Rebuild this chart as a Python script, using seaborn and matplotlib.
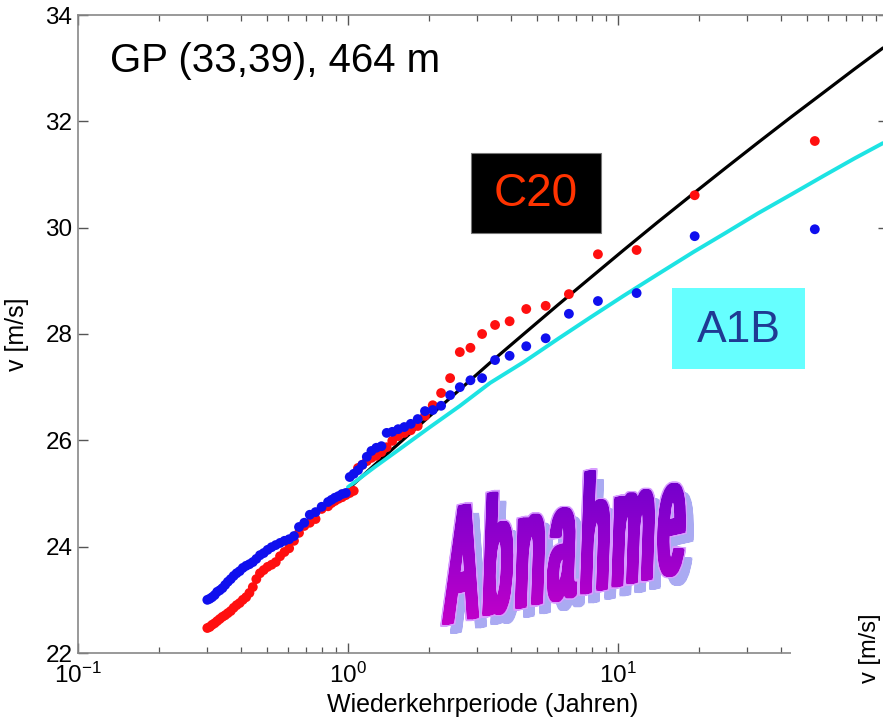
import numpy as np
import pandas as pd
import matplotlib
matplotlib.use("Agg")
import matplotlib.pyplot as plt
import seaborn as sns
from matplotlib.textpath import TextPath
from matplotlib.path import Path
from matplotlib.patches import PathPatch, Rectangle
from matplotlib.font_manager import FontProperties
from matplotlib.colors import LinearSegmentedColormap
import matplotlib.transforms as mtransforms

# ---------------- data ----------------
# return periods (years) of the ranked events
T_pos = [53.57, 19.23, 11.72, 8.427, 6.579, 5.396, 4.573, 3.968, 3.505, 3.138,
         2.841, 2.595, 2.389, 2.212, 2.060, 1.928, 1.812, 1.708, 1.616, 1.534,
         1.459, 1.391, 1.330, 1.273, 1.221, 1.174, 1.130, 1.089, 1.050, 1.015,
         0.9817, 0.9506, 0.9215, 0.8939, 0.8683,
         0.8436, 0.7987, 0.7583, 0.7219, 0.6887, 0.6585, 0.6308, 0.6053, 0.5818, 0.5601,
         0.5400, 0.5212, 0.5037, 0.4873, 0.4720, 0.4576, 0.4441, 0.4314, 0.4194, 0.4078,
         0.3970, 0.3868, 0.3771, 0.3678, 0.3590, 0.3507, 0.3427, 0.3350, 0.3277, 0.3207,
         0.3139, 0.3075, 0.3013]

v_c20 = [31.63, 30.61, 29.58, 29.50, 28.75, 28.53, 28.47, 28.24, 28.17, 28.00,
         27.74, 27.66, 27.17, 26.89, 26.66, 26.46, 26.27, 26.19, 26.14, 26.08,
         25.99, 25.87, 25.78, 25.71, 25.67, 25.61, 25.54, 25.48, 25.05, 25.01,
         24.97, 24.93, 24.90, 24.86, 24.82,
         24.76, 24.71, 24.52, 24.45, 24.39, 24.26, 24.11, 23.97, 23.90, 23.82,
         23.71, 23.66, 23.62, 23.56, 23.50, 23.39, 23.24, 23.13, 23.05, 23.00,
         22.94, 22.90, 22.85, 22.79, 22.75, 22.71, 22.68, 22.64, 22.60, 22.56,
         22.53, 22.49, 22.47]

v_a1b = [29.97, 29.84, 28.77, 28.62, 28.38, 27.92, 27.77, 27.59, 27.51, 27.17,
         27.13, 27.00, 26.85, 26.65, 26.57, 26.55, 26.40, 26.31, 26.25, 26.21,
         26.16, 26.14, 25.89, 25.86, 25.80, 25.69, 25.54, 25.44, 25.37, 25.31,
         25.01, 24.99, 24.95, 24.92, 24.88,
         24.84, 24.75, 24.65, 24.60, 24.45, 24.37, 24.20, 24.14, 24.11, 24.07,
         24.03, 23.99, 23.94, 23.88, 23.84, 23.77, 23.71, 23.67, 23.64, 23.60,
         23.54, 23.50, 23.45, 23.39, 23.34, 23.28, 23.22, 23.18, 23.15, 23.09,
         23.05, 23.02, 23.00]

# fitted curves
fit_T = [1.0, 1.25, 1.558, 2.0, 2.6, 3.36, 4.5, 6.0, 8.0, 10.5,
         14.0, 19.0, 25.0, 33.0, 44.0, 58.0, 75.0, 95.8]
fit_c20_v = [25.08, 25.53, 25.96, 26.45, 26.96, 27.46, 28.01, 28.55, 29.08, 29.58,
             30.10, 30.64, 31.12, 31.60, 32.09, 32.55, 32.98, 33.38]
fit_a1b_v = [25.12, 25.49, 25.84, 26.24, 26.65, 27.08, 27.48, 27.91, 28.33, 28.72,
             29.12, 29.54, 29.90, 30.27, 30.63, 30.98, 31.30, 31.59]

y_ticks = [22, 24, 26, 28, 30, 32, 34]
x_ticks = [0.1, 1, 10, 100]

# ---------------- figure ----------------
sns.set_theme(style="ticks")
plt.rcParams["font.family"] = ["Liberation Sans", "DejaVu Sans"]
plt.rcParams["mathtext.fontset"] = "custom"
plt.rcParams["mathtext.rm"] = "Liberation Sans"
plt.rcParams["text.color"] = "black"
plt.rcParams["axes.labelcolor"] = "black"

W, H = 883, 723
fig = plt.figure(figsize=(W / 100, H / 100), dpi=100)
fig.patch.set_facecolor("white")

ax = fig.add_axes([78 / W, (H - 653) / H, (888 - 78) / W, (653 - 15) / H])
ax.set_facecolor("white")

n = len(T_pos)
pts = pd.DataFrame({"T": T_pos + T_pos,
                    "v": v_c20 + v_a1b,
                    "run": ["C20"] * n + ["A1B"] * n})

sns.lineplot(x=fit_T, y=fit_c20_v, color="black", lw=2.3, ax=ax)
sns.lineplot(x=fit_T, y=fit_a1b_v, color="#1de3e3", lw=2.8, ax=ax)
sns.scatterplot(data=pts, x="T", y="v", hue="run",
                palette={"C20": "#ff0f0f", "A1B": "#0f0fee"},
                s=50, edgecolor="none", linewidth=0, legend=False, ax=ax, zorder=3)

ax.set_xscale("log")
ax.set_xlim(0.1, 100)
ax.set_ylim(22, 34)
ax.set_yticks(y_ticks)
ax.set_xticks(x_ticks)
ax.tick_params(which="both", direction="in", top=True, right=True,
               color="#555555", labelsize=17.5, labelcolor="black")
ax.tick_params(which="major", length=7, width=1.0)
ax.tick_params(which="minor", length=4, width=0.9)
ax.tick_params(axis="x", pad=7)
ax.tick_params(axis="y", pad=4)
for sp in ax.spines.values():
    sp.set_color("#888888")
    sp.set_linewidth(1.2)
ax.set_xlabel("Wiederkehrperiode (Jahren)", fontsize=18, labelpad=4, color="black")
ax.set_ylabel("v [m/s]", fontsize=18, labelpad=12, color="black")

# ---------------- overlay annotations (pixel coordinates) ----------------
ov = fig.add_axes([0, 0, 1, 1], zorder=5)
ov.set_xlim(0, W)
ov.set_ylim(0, H)
ov.axis("off")
ov.patch.set_alpha(0)

def Y(y):
    return H - y

# part of the neighbouring slide figure covering the lower right
ov.add_patch(Rectangle((791, 0), W - 791, Y(270), facecolor="white", edgecolor="none", zorder=1))
ov.text(870, Y(648), "v [m/s]", rotation=90, fontsize=17, ha="center", va="center",
        color="black", zorder=2)

ov.text(110, Y(61), "GP (33,39), 464 m", fontsize=29, ha="left", va="center",
        color="black", zorder=3)

ov.add_patch(Rectangle((471, Y(233)), 130, 80, facecolor="black", edgecolor="#777777", lw=0.8, zorder=3))
ov.text(536, Y(194), "C20", fontsize=33, color="#ff3300", ha="center", va="center", zorder=4)

ov.add_patch(Rectangle((672, Y(369)), 133, 81, facecolor="#66ffff", edgecolor="none", zorder=3))
ov.text(738.5, Y(330), "A1B", fontsize=32, color="#1f3a93", ha="center", va="center", zorder=4)

# WordArt "Abnahme" (tall, heavy, sheared, gradient fill with dotted shadow)
prop = FontProperties(family="Liberation Sans", weight="bold")
word = "Abnahme"
glyphs = [TextPath((0, 0), ch, size=1, prop=prop) for ch in word]
widths = [g.get_extents().width for g in glyphs]
thick = 5.0           # extra stroke weight in px
gap_px = 8.5          # spacing between glyph origins (before thickening)
total_px = 242
sx = (total_px - thick - gap_px * (len(word) - 1)) / sum(widths)
sy = 120 / 0.716
pieces = []
xpos = 0.0
for g, w in zip(glyphs, widths):
    e = g.get_extents()
    t = mtransforms.Affine2D().translate(-e.x0, 0).scale(sx, sy).translate(xpos, 0)
    pieces.append(t.transform_path(g))
    xpos += w * sx + gap_px
word_path = Path.make_compound_path(*pieces)
shear = mtransforms.Affine2D().skew_deg(2, 12.5).translate(442, Y(625))
base = shear.transform_path(word_path)
copies = [mtransforms.Affine2D().translate(dx, dy).transform_path(base)
          for dx in (0, 1.25, 2.5, 3.75, 5.0) for dy in (0, 1.5)]
path = Path.make_compound_path(*copies)
shadow = mtransforms.Affine2D().translate(8, -9).transform_path(path)
ov.add_patch(PathPatch(shadow, facecolor="#aaaaf2", edgecolor="none", zorder=6))
ov.add_patch(PathPatch(path, facecolor="#d79cff", edgecolor="#d79cff", lw=2.2, zorder=7))
clip = PathPatch(path, facecolor="none", edgecolor="none", transform=ov.transData)
ov.add_patch(clip)
grad = np.linspace(0, 1, 256).reshape(-1, 1)
cmap = LinearSegmentedColormap.from_list("wa", ["#6e00cc", "#9a00cc", "#cc00c8"])
im = ov.imshow(grad, cmap=cmap, extent=(430, 700, Y(640), Y(470)), origin="upper",
               aspect="auto", zorder=8, interpolation="bilinear")
im.set_clip_path(clip)
ov.set_xlim(0, W)
ov.set_ylim(0, H)

fig.savefig("out.png", dpi=100, facecolor="white")
